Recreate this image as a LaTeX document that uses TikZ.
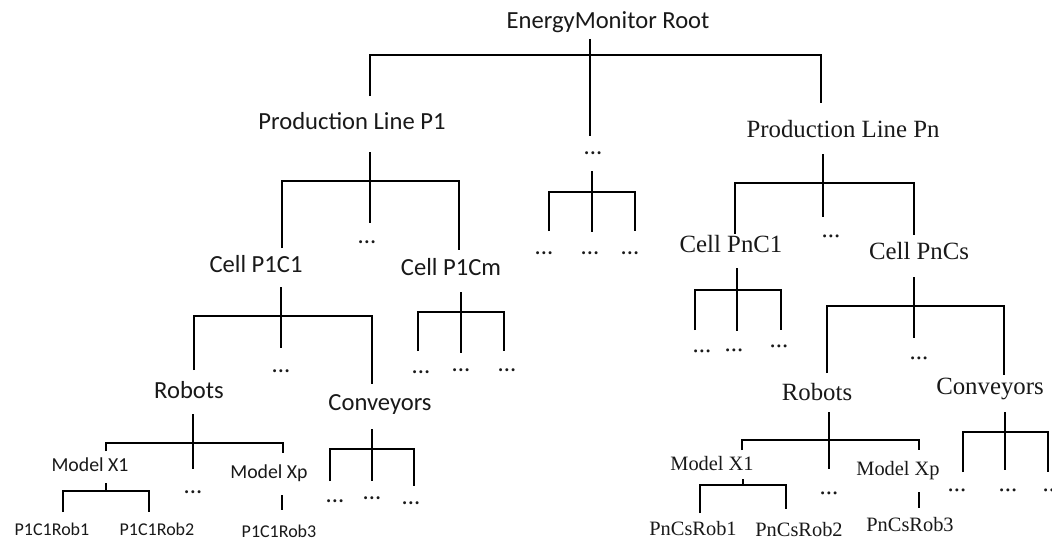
\documentclass[tikz,border=0pt]{standalone}
\usepackage{fontspec}
\newfontfamily\calfont{Carlito}
\newfontfamily\timfont{Liberation Serif}

\begin{document}
\begin{tikzpicture}[x=0.5pt,y=-0.5pt,line width=0.8pt,
    lbl/.style={anchor=base,inner sep=0pt,text=black!90},
    sbig/.style={lbl,font=\calfont\fontsize{12.3}{14}\selectfont},
    smodel/.style={lbl,font=\calfont\fontsize{9.9}{12}\selectfont},
    srob/.style={lbl,font=\calfont\fontsize{9}{11}\selectfont},
    tbig/.style={lbl,font=\timfont\fontsize{12.4}{14}\selectfont},
    tsmall/.style={lbl,font=\timfont\fontsize{10.2}{12}\selectfont}]
    \useasboundingbox[fill=white] (0,0) rectangle (1052,540);

    % labels, left half
    \node[sbig] (root) at (608,29) {EnergyMonitor Root};
    \node[sbig] (pl1) at (352,129) {Production Line P1};
    \node[sbig] (plm) at (593,154) {...};
    \node[sbig] (ma) at (544,254) {...};
    \node[sbig] (mb) at (590,254) {...};
    \node[sbig] (mc) at (630,254) {...};
    \node[sbig] (c11) at (256,272) {Cell P1C1};
    \node[sbig] (c1d) at (367,243) {...};
    \node[sbig] (c1m) at (451,275) {Cell P1Cm};
    \node[sbig] (cma) at (421,373) {...};
    \node[sbig] (cmb) at (461,371) {...};
    \node[sbig] (cmc) at (507,371) {...};
    \node[sbig] (rob1) at (189,398) {Robots};
    \node[sbig] (c11d) at (281,372) {...};
    \node[sbig] (conv1) at (380,410) {Conveyors};
    \node[sbig] (cva) at (335,502) {...};
    \node[sbig] (cvb) at (372,499) {...};
    \node[sbig] (cvc) at (411,504) {...};
    \node[smodel] (mx1) at (90,471) {Model X1};
    \node[sbig] (rd1) at (193,493) {...};
    \node[smodel] (mxp1) at (269,478) {Model Xp};
    \node[srob] (r1a) at (52,535) {P1C1Rob1};
    \node[srob] (r1b) at (157,535) {P1C1Rob2};
    \node[srob] (r1c) at (279,537) {P1C1Rob3};

    % labels, right half
    \node[tbig] (pln) at (843,137) {Production Line Pn};
    \node[tbig] (pnd) at (831,237) {...};
    \node[tbig] (pnc1) at (731,252) {Cell PnC1};
    \node[tbig] (pncs) at (919,259) {Cell PnCs};
    \node[tbig] (pna) at (702,352) {...};
    \node[tbig] (pnb) at (734,351) {...};
    \node[tbig] (pnc) at (779,347) {...};
    \node[tbig] (csd) at (919,359) {...};
    \node[tbig] (rob2) at (817,400) {Robots};
    \node[tbig] (conv2) at (990,394) {Conveyors};
    \node[tbig] (rd2) at (829,494) {...};
    \node[tbig] (cwa) at (957,491) {...};
    \node[tbig] (cwb) at (1008,491) {...};
    \node[tbig] (cwc) at (1052,491) {...};
    \node[tsmall] (mx2) at (712,470) {Model X1};
    \node[tsmall] (mxp2) at (898,475) {Model Xp};
    \node[tsmall] (r2a) at (693,535) {PnCsRob1};
    \node[tsmall] (r2b) at (799,536) {PnCsRob2};
    \node[tsmall] (r2c) at (910,531) {PnCsRob3};

    % line ends
    \coordinate (root-o) at (590,39);  \coordinate (root-j) at (590,55);
    \coordinate (pl1-i) at (370,96);   \coordinate (plm-i) at (590,136);  \coordinate (pln-i) at (821,103);
    \coordinate (pl1-o) at (370,152);  \coordinate (pl1-j) at (370,181);
    \coordinate (c11-i) at (282,248);  \coordinate (c1d-i) at (370,223);  \coordinate (c1m-i) at (459,250);
    \coordinate (plm-o) at (592,171);  \coordinate (plm-j) at (592,192);
    \coordinate (ma-i) at (549,231);   \coordinate (mb-i) at (592,232);   \coordinate (mc-i) at (635,231);
    \coordinate (pln-o) at (823,154);  \coordinate (pln-j) at (823,183);
    \coordinate (pnc1-i) at (735,234); \coordinate (pnd-i) at (823,217);  \coordinate (pncs-i) at (914,235);
    \coordinate (c11-o) at (281,287);  \coordinate (c11-j) at (281,316);
    \coordinate (rob1-i) at (194,370); \coordinate (c11d-i) at (281,348); \coordinate (conv1-i) at (372,384);
    \coordinate (c1m-o) at (461,292);  \coordinate (c1m-j) at (461,312);
    \coordinate (cma-i) at (418,351);  \coordinate (cmb-i) at (461,353);  \coordinate (cmc-i) at (504,351);
    \coordinate (pnc1-o) at (737,268); \coordinate (pnc1-j) at (737,290);
    \coordinate (pna-i) at (695,330);  \coordinate (pnb-i) at (737,331);  \coordinate (pnc-i) at (781,330);
    \coordinate (pncs-o) at (914,277); \coordinate (pncs-j) at (914,306);
    \coordinate (rob2-i) at (827,373); \coordinate (csd-i) at (914,338);  \coordinate (conv2-i) at (1004,375);
    \coordinate (rob1-o) at (193,414); \coordinate (rob1-j) at (193,443);
    \coordinate (mx1-i) at (106,451);  \coordinate (rd1-i) at (193,469);  \coordinate (mxp1-i) at (283,453);
    \coordinate (conv1-o) at (372,429); \coordinate (conv1-j) at (372,449);
    \coordinate (cva-i) at (330,481);  \coordinate (cvb-i) at (372,481);  \coordinate (cvc-i) at (414,486);
    \coordinate (mx1-o) at (106,483);  \coordinate (mx1-j) at (106,491);
    \coordinate (r1a-i) at (63,512);   \coordinate (r1b-i) at (149,512);
    \coordinate (mxp1-o) at (282,495); \coordinate (r1c-i) at (282,510);
    \coordinate (rob2-o) at (829,412); \coordinate (rob2-j) at (829,440);
    \coordinate (mx2-i) at (742,450);  \coordinate (rd2-i) at (829,469);  \coordinate (mxp2-i) at (919,450);
    \coordinate (conv2-o) at (1005,412); \coordinate (conv2-j) at (1005,432);
    \coordinate (cwa-i) at (963,472);  \coordinate (cwb-i) at (1005,470); \coordinate (cwc-i) at (1048,472);
    \coordinate (mx2-o) at (743,479);  \coordinate (mx2-j) at (743,485);
    \coordinate (r2a-i) at (700,513);  \coordinate (r2b-i) at (786,509);
    \coordinate (mxp2-o) at (919,492); \coordinate (r2c-i) at (919,508);

    % forks
    \draw (root-o) -- (root-j) -- (plm-i);
    \draw (pl1-i) |- (root-j) -| (pln-i);
    \draw (pl1-o) -- (pl1-j) -- (c1d-i);
    \draw (c11-i) |- (pl1-j) -| (c1m-i);
    \draw (plm-o) -- (plm-j) -- (mb-i);
    \draw (ma-i) |- (plm-j) -| (mc-i);
    \draw (pln-o) -- (pln-j) -- (pnd-i);
    \draw (pnc1-i) |- (pln-j) -| (pncs-i);
    \draw (c11-o) -- (c11-j) -- (c11d-i);
    \draw (rob1-i) |- (c11-j) -| (conv1-i);
    \draw (c1m-o) -- (c1m-j) -- (cmb-i);
    \draw (cma-i) |- (c1m-j) -| (cmc-i);
    \draw (pnc1-o) -- (pnc1-j) -- (pnb-i);
    \draw (pna-i) |- (pnc1-j) -| (pnc-i);
    \draw (pncs-o) -- (pncs-j) -- (csd-i);
    \draw (rob2-i) |- (pncs-j) -| (conv2-i);
    \draw (rob1-o) -- (rob1-j) -- (rd1-i);
    \draw (mx1-i) |- (rob1-j) -| (mxp1-i);
    \draw (conv1-o) -- (conv1-j) -- (cvb-i);
    \draw (cva-i) |- (conv1-j) -| (cvc-i);
    \draw (mx1-o) -- (mx1-j);
    \draw (r1a-i) |- (mx1-j) -| (r1b-i);
    \draw (mxp1-o) -- (r1c-i);
    \draw (rob2-o) -- (rob2-j) -- (rd2-i);
    \draw (mx2-i) |- (rob2-j) -| (mxp2-i);
    \draw (conv2-o) -- (conv2-j) -- (cwb-i);
    \draw (cwa-i) |- (conv2-j) -| (cwc-i);
    \draw (mx2-o) -- (mx2-j);
    \draw (r2a-i) |- (mx2-j) -| (r2b-i);
    \draw (mxp2-o) -- (r2c-i);
\end{tikzpicture}
\end{document}
